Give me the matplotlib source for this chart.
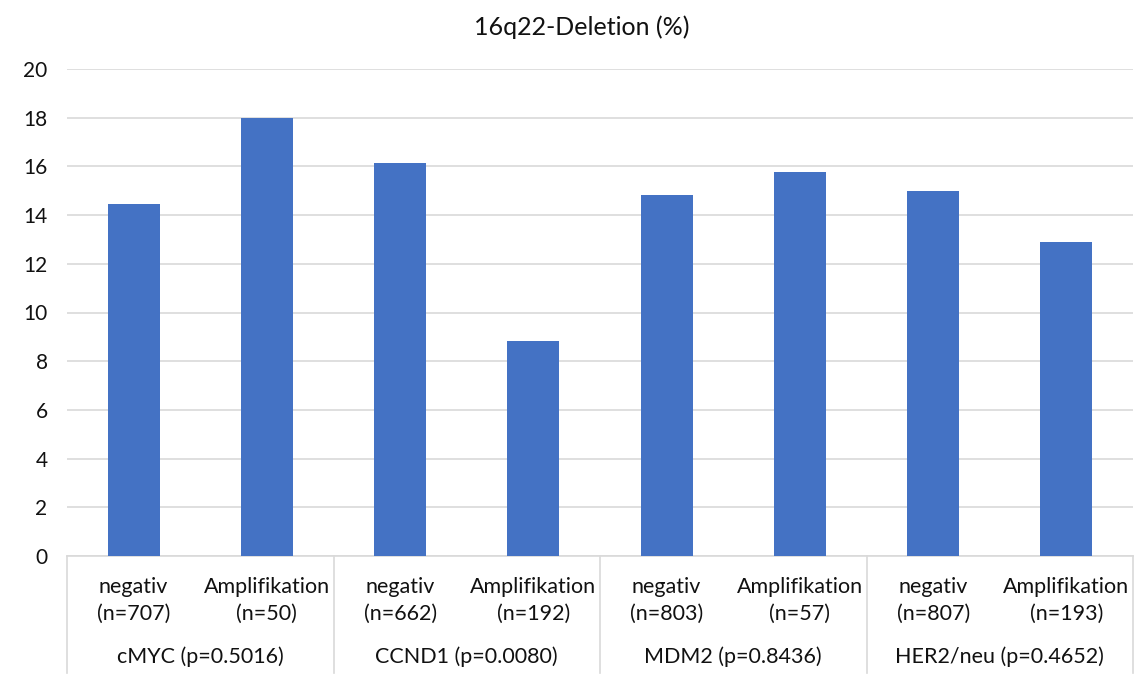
import matplotlib
matplotlib.use("Agg")
import matplotlib.pyplot as plt
from matplotlib.transforms import blended_transform_factory

plt.rcParams["font.family"] = ["Lato", "DejaVu Sans"]

# Data
groups = ["cMYC (p=0.5016)", "CCND1 (p=0.0080)", "MDM2 (p=0.8436)", "HER2/neu (p=0.4652)"]
sub_labels = ["negativ\n(n=707)", "Amplifikation\n(n=50)",
              "negativ\n(n=662)", "Amplifikation\n(n=192)",
              "negativ\n(n=803)", "Amplifikation\n(n=57)",
              "negativ\n(n=807)", "Amplifikation\n(n=193)"]
values = [14.45, 18.0, 16.15, 8.85, 14.83, 15.75, 14.98, 12.89]
y_ticks = [0, 2, 4, 6, 8, 10, 12, 14, 16, 18, 20]

W, H = 1145, 675
fig = plt.figure(figsize=(W / 100, H / 100), dpi=100)
ax = fig.add_axes([67 / W, 1 - 556 / H, (1133 - 67) / W, (556 - 69) / H])

x = list(range(len(values)))
ax.bar(x, values, width=0.39, color="#4472C4", zorder=3)

ax.set_xlim(-0.5, len(values) - 0.5)
ax.set_ylim(0, 20)
ax.set_yticks(y_ticks)
ax.tick_params(axis="y", length=0, pad=14, labelsize=15, labelcolor="#111111")
ax.set_xticks([])
ax.grid(axis="y", color="#d9d9d9", linewidth=1.2, zorder=0)
for side in ["top", "right", "left"]:
    ax.spines[side].set_visible(False)
ax.spines["bottom"].set_color("#d9d9d9")
ax.spines["bottom"].set_linewidth(1.2)

trans = blended_transform_factory(ax.transData, ax.transAxes)

# Inner category labels
for xi, lab in zip(x, sub_labels):
    ax.text(xi, -0.091, lab, transform=trans, ha="center", va="center",
            fontsize=15.5, color="#111111", linespacing=1.4)

# Outer group labels and separators
n_per = len(values) // len(groups)
for gi, g in enumerate(groups):
    cx = gi * n_per + (n_per - 1) / 2
    ax.text(cx, -0.207, g, transform=trans, ha="center", va="center",
            fontsize=15.5, color="#111111")
for b in range(len(groups) + 1):
    xb = b * n_per - 0.5
    ax.plot([xb, xb], [0, -0.24], transform=trans, color="#d9d9d9",
            linewidth=1.2, clip_on=False)

fig.text(582 / W, 1 - 27 / H, "16q22-Deletion (%)", ha="center", va="center",
         fontsize=18, color="#111111")

fig.savefig("out.png", dpi=100, facecolor="white")
